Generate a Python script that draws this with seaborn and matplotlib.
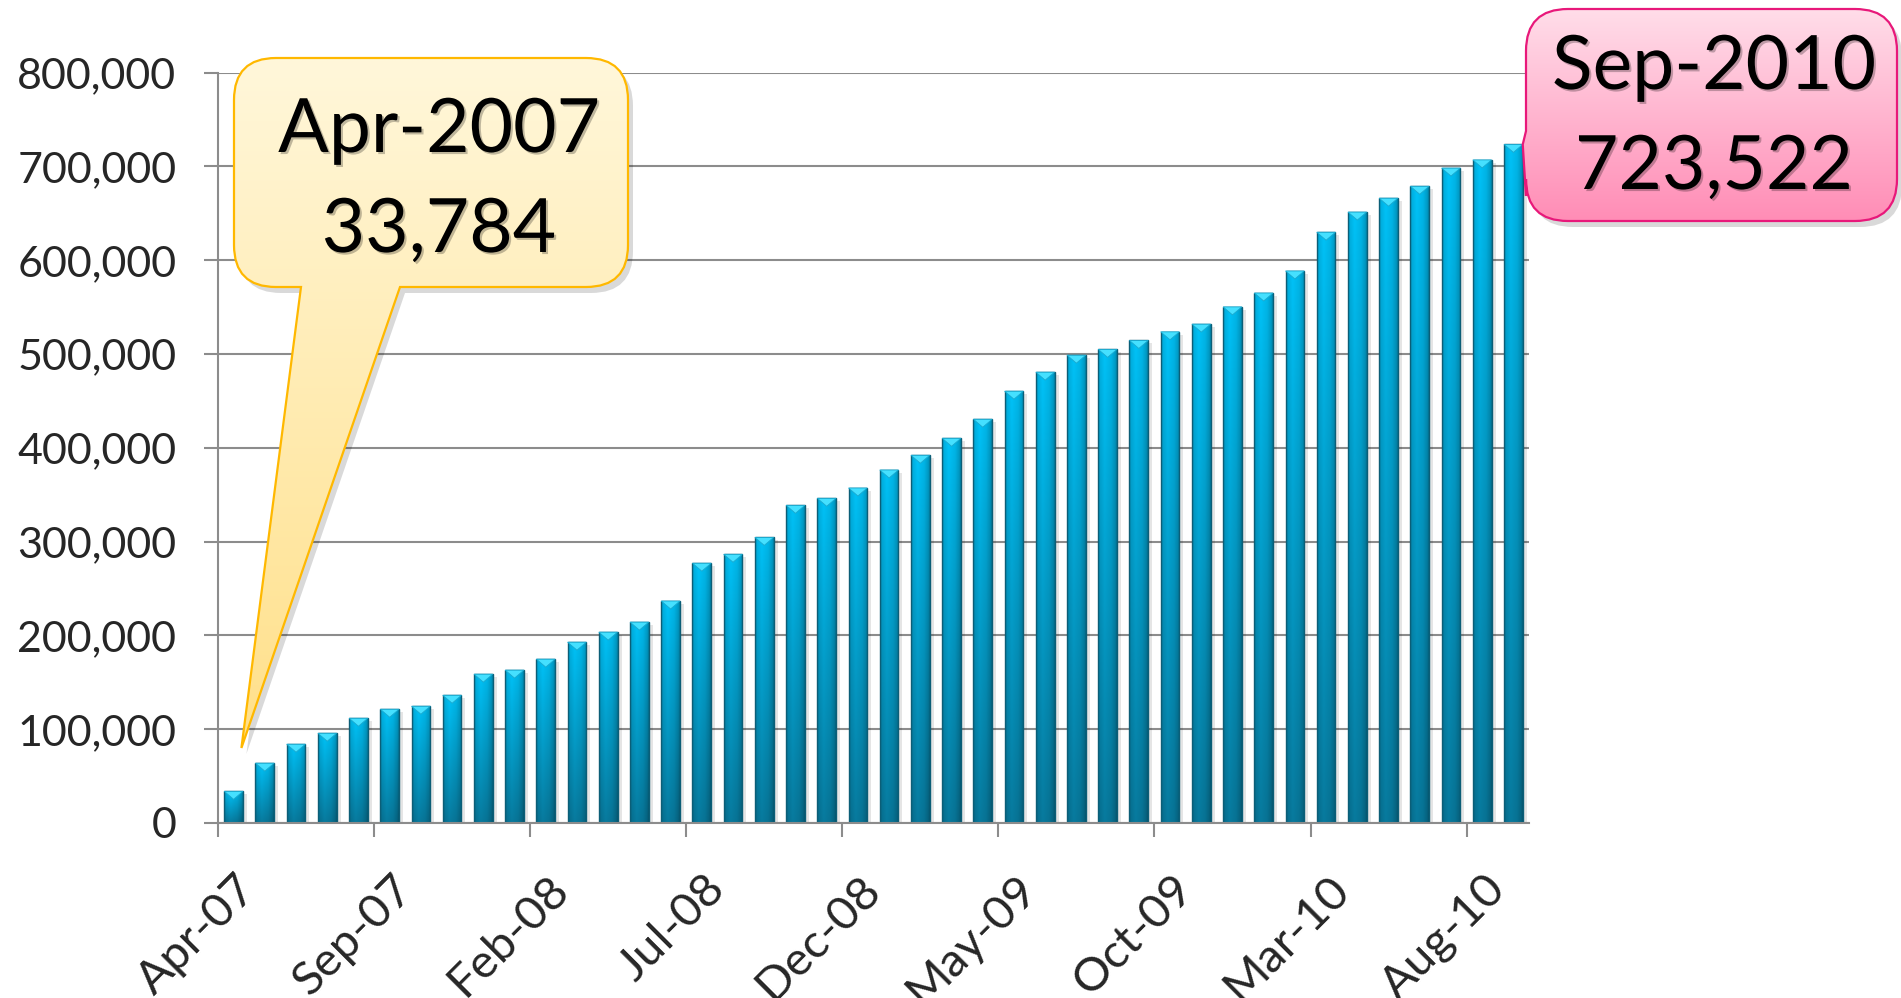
import numpy as np
import pandas as pd
import matplotlib
matplotlib.use("Agg")
import matplotlib.pyplot as plt
import seaborn as sns
from matplotlib.path import Path
from matplotlib.patches import PathPatch, Polygon, Rectangle
from matplotlib import patheffects as pe
import matplotlib.transforms as mtransforms
from matplotlib.ticker import FuncFormatter

# ---------------- data ----------------
months = ["Apr-07", "May-07", "Jun-07", "Jul-07", "Aug-07", "Sep-07", "Oct-07", "Nov-07", "Dec-07",
          "Jan-08", "Feb-08", "Mar-08", "Apr-08", "May-08", "Jun-08", "Jul-08", "Aug-08", "Sep-08",
          "Oct-08", "Nov-08", "Dec-08", "Jan-09", "Feb-09", "Mar-09", "Apr-09", "May-09", "Jun-09",
          "Jul-09", "Aug-09", "Sep-09", "Oct-09", "Nov-09", "Dec-09", "Jan-10", "Feb-10", "Mar-10",
          "Apr-10", "May-10", "Jun-10", "Jul-10", "Aug-10", "Sep-10"]
values = [33784, 63800, 84000, 95700, 111700, 121300, 124500, 136200, 158700,
          163000, 174700, 192800, 203500, 214200, 236700, 277000, 286500, 304500,
          338700, 346200, 357200, 376400, 392100, 410200, 430500, 460400, 480700,
          498800, 505000, 514500, 523700, 531900, 550300, 565100, 588600, 629900,
          651400, 666200, 678900, 698300, 707000, 723522]
tick_every = 5
yticks = [0, 100000, 200000, 300000, 400000, 500000, 600000, 700000, 800000]
first_label = ["Apr-2007", "33,784"]
last_label = ["Sep-2010", "723,522"]

# ---------------- figure ----------------
W, H = 1901, 998
sns.set_theme(style="white")
plt.rcParams['font.family'] = ['Lato', 'DejaVu Sans']
fig = plt.figure(figsize=(W / 100, H / 100), dpi=100)
fig.patch.set_facecolor("white")

L, R, B, T = 218, 1529, 823, 72.7
ax = fig.add_axes([L / W, 1 - B / H, (R - L) / W, (B - T) / H])

df = pd.DataFrame({"month": months, "users": values})
sns.barplot(data=df, x="month", y="users", order=months, color="#12ABD8",
            width=0.6, saturation=1, ax=ax, zorder=3)

ax.set_xlim(-0.5, len(months) - 0.5)
ax.set_ylim(yticks[0], yticks[-1])
ax.set_yticks(yticks)
ax.yaxis.set_major_formatter(FuncFormatter(lambda v, p: f"{int(v):,}"))
ax.set_xlabel("")
ax.set_ylabel("")

gray = "#8C8C8C"
ax.grid(axis="y", color=gray, lw=1.5, zorder=0)
ax.grid(axis="x", visible=False)
ax.set_axisbelow(True)
for s in ["top", "right"]:
    ax.spines[s].set_visible(False)
for s in ["left", "bottom"]:
    ax.spines[s].set_color(gray)
    ax.spines[s].set_linewidth(1.5)
    ax.spines[s].set_zorder(4)

tick_idx = list(range(0, len(months), tick_every))
ax.set_xticks([i - 0.5 for i in tick_idx])
ax.set_xticklabels([months[i] for i in tick_idx], rotation=45, ha="right",
                   rotation_mode="anchor")
ax.tick_params(axis="x", length=10, width=1.5, color=gray, pad=22, labelsize=34,
               direction="out", bottom=True)
ax.tick_params(axis="y", length=10, width=1.5, color=gray, pad=20, labelsize=31,
               direction="out", left=True)
offset = mtransforms.ScaledTranslation(0.17, 0, fig.dpi_scale_trans)
for lab in ax.get_xticklabels():
    lab.set_transform(lab.get_transform() + offset)

# ---------------- bar shading ----------------
def grad_img(ny=80, nx=40):
    t = np.linspace(0, 1, ny)[:, None, None]
    top = np.array([0.0, 0.76, 0.97])
    bot = np.array([0.03, 0.48, 0.62])
    col = top * (1 - t) + bot * t
    xs = np.linspace(0, 1, nx)
    prof = np.interp(xs, [0, 0.08, 0.35, 0.7, 0.92, 1.0], [0.74, 0.9, 1.0, 0.93, 0.8, 0.68])
    img = col * prof[None, :, None]
    return np.clip(img, 0, 1)

img = grad_img()
px_per_unit = (B - T) / (yticks[-1] - yticks[0])
bevel = 8 / px_per_unit
shadow_off = mtransforms.ScaledTranslation(0.04, -0.03, fig.dpi_scale_trans)
for p in list(ax.patches):
    x, w, h = p.get_x(), p.get_width(), p.get_height()
    sh = Rectangle((x, 0), w, h, transform=ax.transData + shadow_off,
                   facecolor="#000000", alpha=0.10, edgecolor="none", zorder=2.5)
    ax.add_patch(sh)
    im = ax.imshow(img, extent=[x, x + w, 0, h], origin="upper", aspect="auto",
                   interpolation="bilinear", zorder=3.2)
    im.set_clip_path(p)
    p.set_facecolor("none")
    p.set_edgecolor("#0C5E77")
    p.set_linewidth(1.0)
    p.set_zorder(3.4)
    tri = Polygon([(x, h), (x + w, h), (x + w / 2, h - bevel)], closed=True,
                  facecolor="#45E0FF", edgecolor="#1AA9CF", lw=0.6, zorder=3.5)
    ax.add_patch(tri)

ax.set_xlim(-0.5, len(months) - 0.5)
ax.set_ylim(yticks[0], yticks[-1])

# ---------------- callouts ----------------
ov = fig.add_axes([0, 0, 1, 1])
ov.set_xlim(0, W)
ov.set_ylim(H, 0)
ov.axis("off")
ov.patch.set_alpha(0)


def data_to_px(x, y):
    dx, dy = ax.transData.transform((x, y))
    return dx, H - dy


def callout_path(x0, y0, x1, y1, r, side, b0, b1, tip):
    V, C = [], []
    def mv(p): V.append(p); C.append(Path.MOVETO)
    def ln(p): V.append(p); C.append(Path.LINETO)
    def cv(c, p): V.extend([c, p]); C.extend([Path.CURVE3, Path.CURVE3])
    mv((x0 + r, y0))
    ln((x1 - r, y0))
    cv((x1, y0), (x1, y0 + r))
    ln((x1, y1 - r))
    cv((x1, y1), (x1 - r, y1))
    if side == "bottom":
        ln((b1, y1)); ln(tip); ln((b0, y1))
    ln((x0 + r, y1))
    cv((x0, y1), (x0, y1 - r))
    if side == "left":
        ln((x0, b1)); ln(tip); ln((x0, b0))
    ln((x0, y0 + r))
    cv((x0, y0), (x0 + r, y0))
    V.append((x0 + r, y0)); C.append(Path.CLOSEPOLY)
    return Path(V, C)


def draw_callout(path, c_top, c_bot, edge):
    ext = path.get_extents()
    sh_tr = mtransforms.Affine2D().translate(5, 6) + ov.transData
    ov.add_patch(PathPatch(path, transform=sh_tr, facecolor="#000000", alpha=0.15,
                           edgecolor="none", zorder=1))
    patch = PathPatch(path, facecolor="none", edgecolor=edge, lw=1.6, zorder=3)
    ov.add_patch(patch)
    t = np.linspace(0, 1, 100)[:, None, None]
    g = np.array(c_top)[None, None, :] * (1 - t) + np.array(c_bot)[None, None, :] * t
    g = np.repeat(g, 2, axis=1)
    im = ov.imshow(g, extent=[ext.x0, ext.x1, ext.y1, ext.y0], origin="upper",
                   aspect="auto", interpolation="bilinear", zorder=2)
    im.set_clip_path(patch)


def hex2rgb(h):
    h = h.lstrip("#")
    return [int(h[i:i + 2], 16) / 255 for i in (0, 2, 4)]


tip1 = data_to_px(0.25, 80000)
p1 = callout_path(234, 58, 628, 287, 42, "bottom", 301, 400, tip1)
draw_callout(p1, hex2rgb("#FFF7DA"), hex2rgb("#FFE08A"), "#FFB800")

tip2 = data_to_px(len(months) - 1 + 0.3, values[-1])
p2 = callout_path(1526, 9, 1897, 221, 42, "left", 131, 196, tip2)
draw_callout(p2, hex2rgb("#FFDDE9"), hex2rgb("#FF8DB6"), "#E8187A")

ov.set_xlim(0, W)
ov.set_ylim(H, 0)

shadow = [pe.withSimplePatchShadow(offset=(1.5, -1.5), shadow_rgbFace="#000000", alpha=0.25)]
kw = dict(ha="center", va="baseline", fontsize=54, color="black", zorder=5, path_effects=shadow)
ov.text(439, 152, first_label[0], **kw)
ov.text(439, 252, first_label[1], **kw)
ov.text(1714, 89, last_label[0], **kw)
ov.text(1714, 189, last_label[1], **kw)

fig.savefig("out.png", dpi=100)
